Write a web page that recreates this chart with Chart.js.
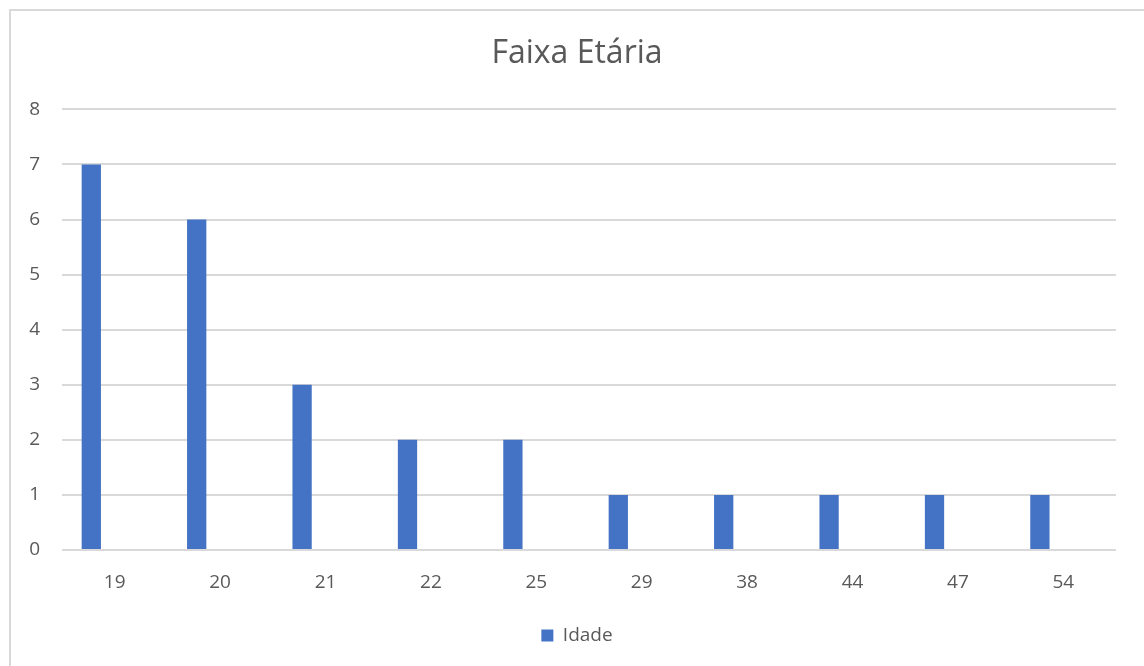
<!DOCTYPE html>
<html>
<head>
<meta charset="utf-8">
<script src="https://cdn.jsdelivr.net/npm/chart.js@4"></script>
<style>
  html, body { margin: 0; padding: 0; background: #ffffff; }
  #wrap { position: absolute; left: 0; top: 0; width: 1144px; height: 666px; }
  #frame { position: absolute; left: 9px; top: 9px; width: 1135px; height: 657px;
           border-left: 2px solid #d9d9d9; border-top: 2px solid #d9d9d9; box-sizing: border-box; pointer-events: none; }
</style>
</head>
<body>
<div id="wrap"><canvas id="c" width="1144" height="666"></canvas></div>
<div id="frame"></div>
<script>
const categories = ['19', '20', '21', '22', '25', '29', '38', '44', '47', '54'];
const idade = [7, 6, 3, 2, 2, 1, 1, 1, 1, 1];
const emptySeries = [null, null, null, null, null, null, null, null, null, null];
const yTicks = [0, 1, 2, 3, 4, 5, 6, 7, 8];
const titleText = 'Faixa Etária';
const seriesName = 'Idade';

const FONT = "'Open Sans', 'Noto Sans', sans-serif";
const GREY = '#595959';

// centre title and legend on the framed area rather than the full canvas
const centreOnFrame = {
  id: 'centreOnFrame',
  afterUpdate(chart) {
    if (chart.titleBlock) { chart.titleBlock.left = 38; }
    if (chart.legend) { chart.legend.left = 38; chart.legend.adjustHitBoxes(); }
  }
};

new Chart(document.getElementById('c'), {
  type: 'bar',
  data: {
    labels: categories,
    datasets: [
      { label: seriesName, data: idade, backgroundColor: '#4472C4', borderWidth: 0,
        categoryPercentage: 0.888, barPercentage: 0.412 },
      { label: '', data: emptySeries, backgroundColor: 'rgba(0,0,0,0)', borderWidth: 0,
        categoryPercentage: 0.888, barPercentage: 0.412 }
    ]
  },
  plugins: [centreOnFrame],
  options: {
    responsive: false,
    animation: false,
    devicePixelRatio: 1,
    layout: { padding: { left: 0, right: 28, top: 10, bottom: 11 } },
    plugins: {
      title: { display: true, text: titleText, color: GREY,
               font: { family: FONT, size: 32, weight: 'normal' },
               padding: { top: 25, bottom: 36 } },
      legend: { display: true, position: 'bottom',
                labels: { color: GREY, font: { family: FONT, size: 19 },
                          boxWidth: 12, boxHeight: 12, padding: 10,
                          filter: (item) => item.text !== '' } },
      tooltip: { enabled: false }
    },
    scales: {
      x: {
        grid: { display: false, drawTicks: false },
        border: { display: false },
        ticks: { color: GREY, font: { family: FONT, size: 19 }, padding: 21, maxRotation: 0 },
        afterFit: (s) => { s.height = 66; }
      },
      y: {
        min: 0, max: 8,
        afterBuildTicks: (s) => { s.ticks = yTicks.map(v => ({ value: v })); },
        grid: { color: '#d9d9d9', lineWidth: 2, drawTicks: false },
        border: { display: false },
        ticks: { color: GREY, font: { family: FONT, size: 19 }, padding: 22 },
        afterFit: (s) => { s.width = 62; }
      }
    }
  }
});
</script>
</body>
</html>
